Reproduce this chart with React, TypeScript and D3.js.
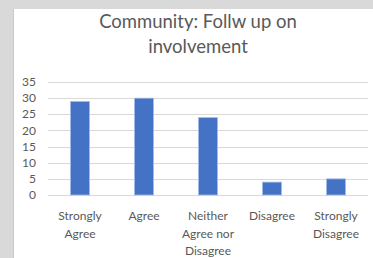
import React, { useEffect, useRef } from "react";
import * as d3 from "d3";

const categories = [
  ["Strongly", "Agree"],
  ["Agree"],
  ["Neither", "Agree nor", "Disagree"],
  ["Disagree"],
  ["Strongly", "Disagree"],
];
const values = [29, 30, 24, 4, 5];
const yTicks = [0, 5, 10, 15, 20, 25, 30, 35];
const titleLines = ["Community: Follw up on", "involvement"];

const W = 373;
const H = 258;
const font = "Lato, 'Open Sans', sans-serif";
const textColor = "#595959";

export default function App() {
  const ref = useRef<SVGSVGElement>(null);

  useEffect(() => {
    const svg = d3.select(ref.current);
    svg.selectAll("*").remove();

    // background + chart area
    svg.append("rect").attr("width", W).attr("height", H).attr("fill", "#d9d9d9");
    svg.append("rect").attr("x", 14).attr("y", 9).attr("width", W - 14).attr("height", H - 9).attr("fill", "#fff");
    svg.append("line").attr("x1", 13.5).attr("x2", 13.5).attr("y1", 9).attr("y2", H).attr("stroke", "#c8c8c8");

    // title
    svg
      .append("g")
      .selectAll("text")
      .data(titleLines)
      .enter()
      .append("text")
      .attr("x", 198)
      .attr("y", (d, i) => 28 + i * 25)
      .attr("text-anchor", "middle")
      .style("font", `18.5px ${font}`)
      .style("fill", textColor)
      .text(d => d);

    const x = d3.scaleBand<number>().domain(d3.range(values.length)).range([48, 368]).paddingInner(0.7).paddingOuter(0.35);
    const y = d3.scaleLinear().domain([0, 35]).range([195, 82]);

    // gridlines
    svg
      .append("g")
      .selectAll("line")
      .data(yTicks)
      .enter()
      .append("line")
      .attr("x1", 48)
      .attr("x2", 368)
      .attr("y1", d => Math.round(y(d)) + 0.5)
      .attr("y2", d => Math.round(y(d)) + 0.5)
      .attr("stroke", "#d9d9d9")
      .attr("stroke-width", 1);

    // y labels
    svg
      .append("g")
      .selectAll("text")
      .data(yTicks)
      .enter()
      .append("text")
      .attr("x", 36)
      .attr("y", d => y(d))
      .attr("dy", "0.35em")
      .attr("text-anchor", "end")
      .style("font", `12px ${font}`)
      .style("fill", textColor)
      .text(d => d);

    // bars
    svg
      .append("g")
      .selectAll("rect")
      .data(values)
      .enter()
      .append("rect")
      .attr("x", (d, i) => x(i)!)
      .attr("y", d => y(d))
      .attr("width", x.bandwidth())
      .attr("height", d => y(0) - y(d))
      .attr("fill", "#4472c4")
      .attr("stroke", "#a9c1ea")
      .attr("stroke-width", 0.8);

    // x labels
    const xl = svg
      .append("g")
      .selectAll("text")
      .data(categories)
      .enter()
      .append("text")
      .attr("text-anchor", "middle")
      .style("font", `12px ${font}`)
      .style("fill", textColor);
    xl.selectAll("tspan")
      .data((d, i) => d.map(t => ({ t, i })))
      .enter()
      .append("tspan")
      .attr("x", d => x(d.i)! + x.bandwidth() / 2)
      .attr("y", (d, j) => 220 + j * 17.5)
      .text(d => d.t);
  }, []);

  return (
    <svg
      ref={ref}
      width={W}
      height={H}
      style={{ position: "absolute", left: 0, top: 0 }}
    />
  );
}
